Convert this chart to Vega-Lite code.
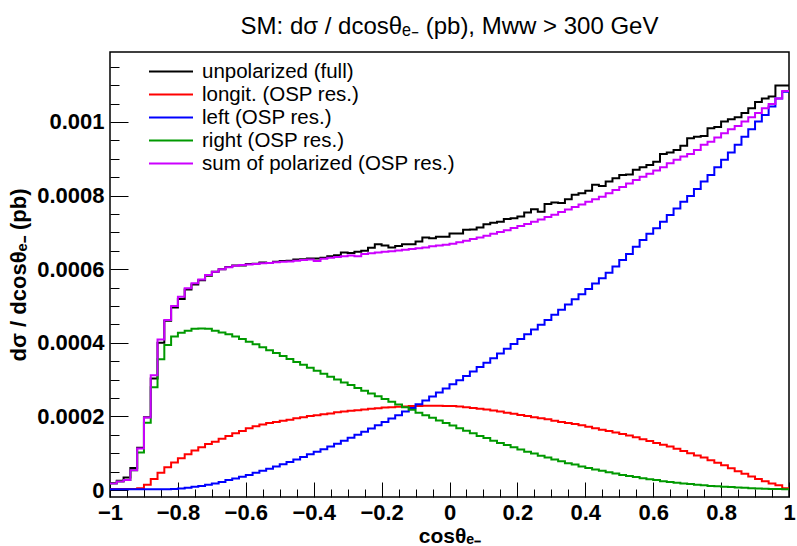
{
"$schema": "https://vega.github.io/schema/vega-lite/v6.json",
"width": 679, "height": 445,
"autosize": "none",
"padding": {"left": 110, "top": 52, "right": 8, "bottom": 49},
"background": "white",
"config": {"view": {"stroke": "#000", "strokeWidth": 1.5}, "font": "Liberation Sans"},
"title": {"text": "SM: dσ / dcosθₑ₋ (pb), Mww > 300 GeV", "fontSize": 24, "fontWeight": "normal", "font": "Liberation Sans", "anchor": "middle", "frame": "group", "offset": 13, "color": "#000"},
"data": {"values": [
{"x":-1,"full":0.19e-4,"longit":0.03e-4,"left":0.02e-4,"right":0.18e-4,"sum":0.18e-4},
{"x":-0.98,"full":0.25e-4,"longit":0.03e-4,"left":0.02e-4,"right":0.23e-4,"sum":0.23e-4},
{"x":-0.96,"full":0.34e-4,"longit":0.03e-4,"left":0.02e-4,"right":0.27e-4,"sum":0.27e-4},
{"x":-0.94,"full":0.60e-4,"longit":0.03e-4,"left":0.02e-4,"right":0.54e-4,"sum":0.54e-4},
{"x":-0.92,"full":1.15e-4,"longit":0.05e-4,"left":0.02e-4,"right":1.02e-4,"sum":1.13e-4},
{"x":-0.9,"full":1.98e-4,"longit":0.14e-4,"left":0.02e-4,"right":1.83e-4,"sum":1.97e-4},
{"x":-0.88,"full":3.03e-4,"longit":0.30e-4,"left":0.02e-4,"right":2.79e-4,"sum":3.12e-4},
{"x":-0.86,"full":4.00e-4,"longit":0.47e-4,"left":0.02e-4,"right":3.55e-4,"sum":4.09e-4},
{"x":-0.84,"full":4.60e-4,"longit":0.62e-4,"left":0.02e-4,"right":3.94e-4,"sum":4.62e-4},
{"x":-0.82,"full":4.96e-4,"longit":0.75e-4,"left":0.03e-4,"right":4.17e-4,"sum":5.00e-4},
{"x":-0.8,"full":5.19e-4,"longit":0.86e-4,"left":0.04e-4,"right":4.27e-4,"sum":5.25e-4},
{"x":-0.78,"full":5.45e-4,"longit":0.97e-4,"left":0.06e-4,"right":4.33e-4,"sum":5.48e-4},
{"x":-0.76,"full":5.58e-4,"longit":1.07e-4,"left":0.09e-4,"right":4.38e-4,"sum":5.62e-4},
{"x":-0.74,"full":5.70e-4,"longit":1.16e-4,"left":0.11e-4,"right":4.39e-4,"sum":5.72e-4},
{"x":-0.72,"full":5.82e-4,"longit":1.25e-4,"left":0.14e-4,"right":4.38e-4,"sum":5.84e-4},
{"x":-0.7,"full":5.93e-4,"longit":1.31e-4,"left":0.18e-4,"right":4.33e-4,"sum":5.93e-4},
{"x":-0.68,"full":6.00e-4,"longit":1.39e-4,"left":0.22e-4,"right":4.28e-4,"sum":6.00e-4},
{"x":-0.66,"full":6.06e-4,"longit":1.47e-4,"left":0.27e-4,"right":4.23e-4,"sum":6.05e-4},
{"x":-0.64,"full":6.10e-4,"longit":1.54e-4,"left":0.31e-4,"right":4.17e-4,"sum":6.09e-4},
{"x":-0.62,"full":6.10e-4,"longit":1.60e-4,"left":0.36e-4,"right":4.10e-4,"sum":6.11e-4},
{"x":-0.6,"full":6.14e-4,"longit":1.68e-4,"left":0.41e-4,"right":4.03e-4,"sum":6.13e-4},
{"x":-0.58,"full":6.15e-4,"longit":1.73e-4,"left":0.47e-4,"right":3.96e-4,"sum":6.14e-4},
{"x":-0.56,"full":6.18e-4,"longit":1.78e-4,"left":0.52e-4,"right":3.88e-4,"sum":6.16e-4},
{"x":-0.54,"full":6.17e-4,"longit":1.82e-4,"left":0.58e-4,"right":3.80e-4,"sum":6.17e-4},
{"x":-0.52,"full":6.20e-4,"longit":1.85e-4,"left":0.64e-4,"right":3.72e-4,"sum":6.19e-4},
{"x":-0.5,"full":6.22e-4,"longit":1.88e-4,"left":0.70e-4,"right":3.64e-4,"sum":6.20e-4},
{"x":-0.48,"full":6.23e-4,"longit":1.91e-4,"left":0.76e-4,"right":3.56e-4,"sum":6.21e-4},
{"x":-0.46,"full":6.26e-4,"longit":1.95e-4,"left":0.83e-4,"right":3.48e-4,"sum":6.23e-4},
{"x":-0.44,"full":6.27e-4,"longit":1.98e-4,"left":0.90e-4,"right":3.40e-4,"sum":6.25e-4},
{"x":-0.42,"full":6.29e-4,"longit":2.01e-4,"left":0.97e-4,"right":3.32e-4,"sum":6.26e-4},
{"x":-0.4,"full":6.29e-4,"longit":2.03e-4,"left":1.04e-4,"right":3.24e-4,"sum":6.22e-4},
{"x":-0.38,"full":6.31e-4,"longit":2.06e-4,"left":1.11e-4,"right":3.16e-4,"sum":6.28e-4},
{"x":-0.36,"full":6.35e-4,"longit":2.08e-4,"left":1.18e-4,"right":3.08e-4,"sum":6.31e-4},
{"x":-0.34,"full":6.38e-4,"longit":2.11e-4,"left":1.26e-4,"right":3.00e-4,"sum":6.33e-4},
{"x":-0.32,"full":6.45e-4,"longit":2.13e-4,"left":1.34e-4,"right":2.92e-4,"sum":6.35e-4},
{"x":-0.3,"full":6.44e-4,"longit":2.15e-4,"left":1.42e-4,"right":2.85e-4,"sum":6.37e-4},
{"x":-0.28,"full":6.47e-4,"longit":2.17e-4,"left":1.50e-4,"right":2.77e-4,"sum":6.35e-4},
{"x":-0.26,"full":6.50e-4,"longit":2.19e-4,"left":1.58e-4,"right":2.70e-4,"sum":6.41e-4},
{"x":-0.24,"full":6.58e-4,"longit":2.21e-4,"left":1.67e-4,"right":2.62e-4,"sum":6.43e-4},
{"x":-0.22,"full":6.68e-4,"longit":2.22e-4,"left":1.76e-4,"right":2.55e-4,"sum":6.45e-4},
{"x":-0.2,"full":6.64e-4,"longit":2.24e-4,"left":1.85e-4,"right":2.47e-4,"sum":6.47e-4},
{"x":-0.18,"full":6.59e-4,"longit":2.25e-4,"left":1.94e-4,"right":2.40e-4,"sum":6.49e-4},
{"x":-0.16,"full":6.63e-4,"longit":2.26e-4,"left":2.03e-4,"right":2.32e-4,"sum":6.51e-4},
{"x":-0.14,"full":6.68e-4,"longit":2.27e-4,"left":2.13e-4,"right":2.25e-4,"sum":6.53e-4},
{"x":-0.12,"full":6.68e-4,"longit":2.28e-4,"left":2.23e-4,"right":2.18e-4,"sum":6.55e-4},
{"x":-0.1,"full":6.75e-4,"longit":2.28e-4,"left":2.33e-4,"right":2.10e-4,"sum":6.57e-4},
{"x":-0.08,"full":6.86e-4,"longit":2.29e-4,"left":2.43e-4,"right":2.03e-4,"sum":6.59e-4},
{"x":-0.06,"full":6.84e-4,"longit":2.29e-4,"left":2.54e-4,"right":1.96e-4,"sum":6.62e-4},
{"x":-0.04,"full":6.88e-4,"longit":2.29e-4,"left":2.65e-4,"right":1.89e-4,"sum":6.64e-4},
{"x":-0.02,"full":6.88e-4,"longit":2.28e-4,"left":2.76e-4,"right":1.82e-4,"sum":6.66e-4},
{"x":0,"full":6.97e-4,"longit":2.28e-4,"left":2.87e-4,"right":1.75e-4,"sum":6.69e-4},
{"x":0.02,"full":6.97e-4,"longit":2.27e-4,"left":2.98e-4,"right":1.68e-4,"sum":6.73e-4},
{"x":0.04,"full":7.07e-4,"longit":2.25e-4,"left":3.10e-4,"right":1.61e-4,"sum":6.77e-4},
{"x":0.06,"full":7.08e-4,"longit":2.23e-4,"left":3.22e-4,"right":1.54e-4,"sum":6.82e-4},
{"x":0.08,"full":7.13e-4,"longit":2.21e-4,"left":3.34e-4,"right":1.47e-4,"sum":6.86e-4},
{"x":0.1,"full":7.22e-4,"longit":2.19e-4,"left":3.46e-4,"right":1.41e-4,"sum":6.91e-4},
{"x":0.12,"full":7.26e-4,"longit":2.16e-4,"left":3.58e-4,"right":1.34e-4,"sum":6.96e-4},
{"x":0.14,"full":7.29e-4,"longit":2.13e-4,"left":3.71e-4,"right":1.28e-4,"sum":7.01e-4},
{"x":0.16,"full":7.36e-4,"longit":2.10e-4,"left":3.84e-4,"right":1.22e-4,"sum":7.06e-4},
{"x":0.18,"full":7.38e-4,"longit":2.07e-4,"left":3.97e-4,"right":1.16e-4,"sum":7.12e-4},
{"x":0.2,"full":7.43e-4,"longit":2.04e-4,"left":4.10e-4,"right":1.10e-4,"sum":7.17e-4},
{"x":0.22,"full":7.54e-4,"longit":2.01e-4,"left":4.23e-4,"right":1.04e-4,"sum":7.23e-4},
{"x":0.24,"full":7.63e-4,"longit":1.98e-4,"left":4.36e-4,"right":0.99e-4,"sum":7.29e-4},
{"x":0.26,"full":7.56e-4,"longit":1.95e-4,"left":4.49e-4,"right":0.93e-4,"sum":7.35e-4},
{"x":0.28,"full":7.77e-4,"longit":1.92e-4,"left":4.62e-4,"right":0.88e-4,"sum":7.42e-4},
{"x":0.3,"full":7.81e-4,"longit":1.88e-4,"left":4.76e-4,"right":0.83e-4,"sum":7.48e-4},
{"x":0.32,"full":7.80e-4,"longit":1.85e-4,"left":4.90e-4,"right":0.78e-4,"sum":7.55e-4},
{"x":0.34,"full":7.90e-4,"longit":1.82e-4,"left":5.04e-4,"right":0.73e-4,"sum":7.62e-4},
{"x":0.36,"full":8.02e-4,"longit":1.79e-4,"left":5.18e-4,"right":0.69e-4,"sum":7.69e-4},
{"x":0.38,"full":8.06e-4,"longit":1.76e-4,"left":5.32e-4,"right":0.64e-4,"sum":7.76e-4},
{"x":0.4,"full":8.13e-4,"longit":1.72e-4,"left":5.46e-4,"right":0.60e-4,"sum":7.83e-4},
{"x":0.42,"full":8.29e-4,"longit":1.68e-4,"left":5.61e-4,"right":0.56e-4,"sum":7.90e-4},
{"x":0.44,"full":8.26e-4,"longit":1.64e-4,"left":5.75e-4,"right":0.52e-4,"sum":7.97e-4},
{"x":0.46,"full":8.38e-4,"longit":1.60e-4,"left":5.90e-4,"right":0.48e-4,"sum":8.06e-4},
{"x":0.48,"full":8.47e-4,"longit":1.56e-4,"left":6.07e-4,"right":0.45e-4,"sum":8.15e-4},
{"x":0.5,"full":8.56e-4,"longit":1.52e-4,"left":6.25e-4,"right":0.41e-4,"sum":8.23e-4},
{"x":0.52,"full":8.57e-4,"longit":1.48e-4,"left":6.41e-4,"right":0.38e-4,"sum":8.33e-4},
{"x":0.54,"full":8.70e-4,"longit":1.43e-4,"left":6.61e-4,"right":0.35e-4,"sum":8.42e-4},
{"x":0.56,"full":8.77e-4,"longit":1.38e-4,"left":6.79e-4,"right":0.32e-4,"sum":8.51e-4},
{"x":0.58,"full":8.83e-4,"longit":1.33e-4,"left":6.96e-4,"right":0.29e-4,"sum":8.59e-4},
{"x":0.6,"full":8.92e-4,"longit":1.28e-4,"left":7.11e-4,"right":0.27e-4,"sum":8.68e-4},
{"x":0.62,"full":9.13e-4,"longit":1.23e-4,"left":7.29e-4,"right":0.24e-4,"sum":8.77e-4},
{"x":0.64,"full":9.17e-4,"longit":1.18e-4,"left":7.47e-4,"right":0.22e-4,"sum":8.88e-4},
{"x":0.66,"full":9.24e-4,"longit":1.12e-4,"left":7.65e-4,"right":0.20e-4,"sum":8.97e-4},
{"x":0.68,"full":9.35e-4,"longit":1.06e-4,"left":7.83e-4,"right":0.18e-4,"sum":9.06e-4},
{"x":0.7,"full":9.56e-4,"longit":1.00e-4,"left":7.99e-4,"right":0.16e-4,"sum":9.13e-4},
{"x":0.72,"full":9.60e-4,"longit":0.94e-4,"left":8.18e-4,"right":0.14e-4,"sum":9.24e-4},
{"x":0.74,"full":9.62e-4,"longit":0.88e-4,"left":8.38e-4,"right":0.13e-4,"sum":9.38e-4},
{"x":0.76,"full":9.83e-4,"longit":0.81e-4,"left":8.56e-4,"right":0.11e-4,"sum":9.46e-4},
{"x":0.78,"full":9.86e-4,"longit":0.74e-4,"left":8.77e-4,"right":0.10e-4,"sum":9.58e-4},
{"x":0.8,"full":10.01e-4,"longit":0.67e-4,"left":8.97e-4,"right":0.09e-4,"sum":9.69e-4},
{"x":0.82,"full":10.07e-4,"longit":0.59e-4,"left":9.17e-4,"right":0.08e-4,"sum":9.80e-4},
{"x":0.84,"full":10.13e-4,"longit":0.51e-4,"left":9.38e-4,"right":0.07e-4,"sum":9.89e-4},
{"x":0.86,"full":10.24e-4,"longit":0.44e-4,"left":9.60e-4,"right":0.06e-4,"sum":10.01e-4},
{"x":0.88,"full":10.37e-4,"longit":0.37e-4,"left":9.80e-4,"right":0.05e-4,"sum":10.13e-4},
{"x":0.9,"full":10.54e-4,"longit":0.30e-4,"left":10.01e-4,"right":0.04e-4,"sum":10.24e-4},
{"x":0.92,"full":10.64e-4,"longit":0.24e-4,"left":10.19e-4,"right":0.035e-4,"sum":10.37e-4},
{"x":0.94,"full":10.69e-4,"longit":0.18e-4,"left":10.42e-4,"right":0.03e-4,"sum":10.49e-4},
{"x":0.96,"full":10.99e-4,"longit":0.13e-4,"left":10.64e-4,"right":0.025e-4,"sum":10.64e-4},
{"x":0.98,"full":10.99e-4,"longit":0.05e-4,"left":10.82e-4,"right":0.02e-4,"sum":10.84e-4},
{"x":1,"full":10.99e-4,"longit":0.05e-4,"left":10.82e-4,"right":0.02e-4,"sum":10.84e-4}
]},
"transform": [{"fold": ["full", "longit", "left", "right", "sum"], "as": ["series", "value"]}],
"mark": {"type": "line", "interpolate": "step-after", "strokeWidth": 2, "clip": true},
"encoding": {
  "x": {"field": "x", "type": "quantitative",
    "scale": {"domain": [-1, 1], "nice": false, "zero": false},
    "axis": {"values": [-1,-0.95,-0.9,-0.85,-0.8,-0.75,-0.7,-0.65,-0.6,-0.55,-0.5,-0.45,-0.4,-0.35,-0.3,-0.25,-0.2,-0.15,-0.1,-0.05,0,0.05,0.1,0.15,0.2,0.25,0.3,0.35,0.4,0.45,0.5,0.55,0.6,0.65,0.7,0.75,0.8,0.85,0.9,0.95,1],
      "format": "~g", "labelExpr": "round(datum.value*20)%4==0 ? datum.label : ''",
      "domain": false, "grid": false, "tickColor": "#000", "tickWidth": 1,
      "tickSize": {"condition": {"test": "round(datum.value*20)%4==0", "value": -15}, "value": -8},
      "labelFont": "Liberation Sans", "labelFontWeight": "bold", "labelFontSize": 22, "labelColor": "#000", "labelPadding": 20, "labelFlush": false,
      "title": "cosθₑ₋", "titleFont": "Liberation Sans", "titleFontWeight": "bold", "titleFontSize": 21, "titleColor": "#000", "titlePadding": 2}},
  "y": {"field": "value", "type": "quantitative",
    "scale": {"domain": [-0.000019, 0.00119], "nice": false, "zero": false},
    "axis": {"values": [0,5e-5,1e-4,1.5e-4,2e-4,2.5e-4,3e-4,3.5e-4,4e-4,4.5e-4,5e-4,5.5e-4,6e-4,6.5e-4,7e-4,7.5e-4,8e-4,8.5e-4,9e-4,9.5e-4,1e-3,1.05e-3,1.1e-3,1.15e-3],
      "format": "~g", "labelExpr": "round(datum.value*20000)%4==0 ? datum.label : ''",
      "domain": false, "grid": false, "tickColor": "#000", "tickWidth": 1,
      "tickSize": {"condition": {"test": "round(datum.value*20000)%4==0", "value": -18}, "value": -9},
      "labelFont": "Liberation Sans", "labelFontWeight": "bold", "labelFontSize": 22, "labelColor": "#000", "labelPadding": 24, "labelFlush": false,
      "title": "dσ / dcosθₑ₋ (pb)", "titleFont": "Liberation Sans", "titleFontWeight": "bold", "titleFontSize": 22, "titleColor": "#000", "titlePadding": 6}},
  "color": {"field": "series", "type": "nominal",
    "scale": {"domain": ["full", "longit", "left", "right", "sum"], "range": ["#000000", "#ff0000", "#0000ff", "#009900", "#cc00ff"]},
    "legend": {"orient": "none", "legendX": 38, "legendY": 8, "title": null, "padding": 0,
      "symbolType": "stroke", "symbolSize": 1936, "symbolStrokeWidth": 2, "clipHeight": 23, "rowPadding": 0,
      "labelOffset": 8, "labelFont": "Liberation Sans", "labelFontSize": 20.5, "labelColor": "#000", "labelLimit": 500,
      "labelExpr": "{'full':'unpolarized (full)','longit':'longit. (OSP res.)','left':'left (OSP res.)','right':'right (OSP res.)','sum':'sum of polarized (OSP res.)'}[datum.label]"}}
}
}
